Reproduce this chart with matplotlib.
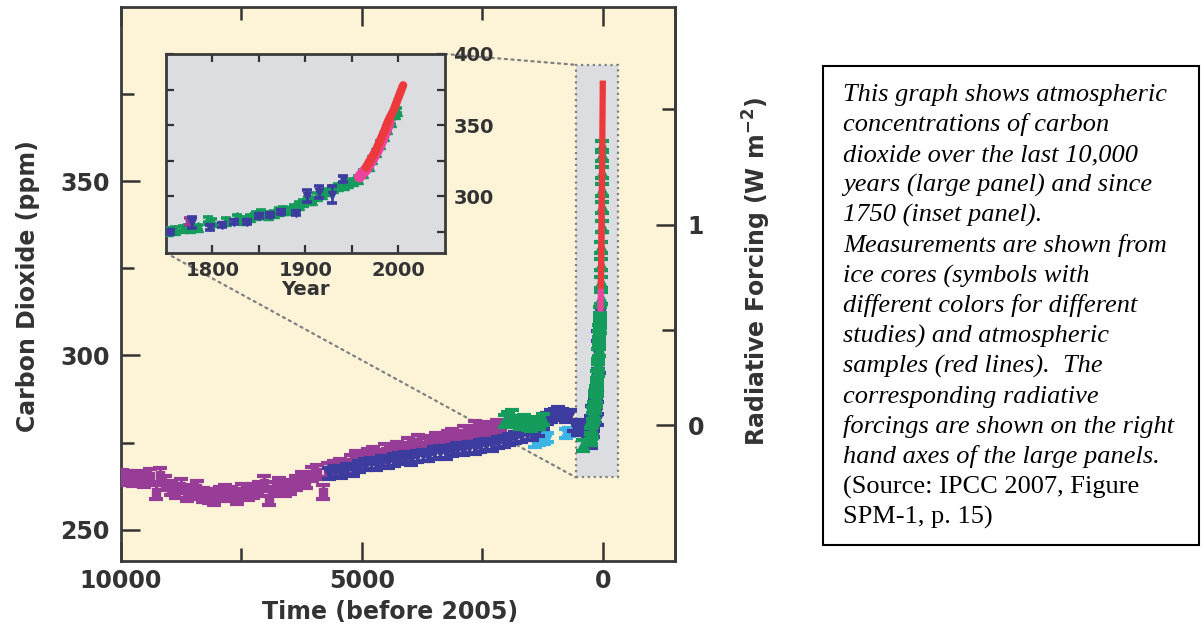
import numpy as np
import matplotlib.pyplot as plt
from matplotlib.patches import Rectangle, ConnectionPatch

plt.rcParams['font.family'] = 'DejaVu Sans'
plt.rcParams['font.weight'] = 'bold'
plt.rcParams['mathtext.default'] = 'bf'

# ---- data ----
# large panel, years before 2005
purple_bp = [9980, 9880, 9760, 9640, 9520, 9400, 9280, 9190, 9080, 8960, 8860, 8760, 8640, 8520,
             8420, 8300, 8180, 8070, 7950, 7840, 7720, 7600, 7480, 7370, 7260, 7140, 7040, 6930,
             6840, 6720, 6600, 6490, 6360, 6250, 6160, 6040, 5930, 5810, 5700, 5580, 5460, 5350,
             5230, 5120, 5000, 4880, 4760, 4640, 4520, 4400, 4280, 4160, 4040, 3920, 3840, 3700,
             3580, 3460, 3340, 3220, 3120, 3000, 2880, 2760, 2660, 2540, 2420, 2300, 2200, 2100]
purple_ppm = [265.2, 264.8, 264.5, 264.9, 264.3, 265.4, 260.9, 265.8, 263.5, 262.0, 261.2, 262.4, 260.1, 260.8,
              261.9, 260.0, 259.6, 259.0, 260.3, 260.8, 260.2, 259.4, 261.0, 260.6, 261.2, 261.8, 263.3, 259.0,
              261.6, 262.8, 261.6, 262.3, 263.4, 264.5, 264.0, 266.0, 266.5, 260.8, 267.2, 267.6, 268.4, 268.0,
              269.5, 270.6, 270.2, 271.2, 271.8, 271.0, 272.6, 272.0, 273.1, 272.4, 274.2, 273.6, 275.3, 274.3,
              275.0, 275.8, 275.4, 276.4, 277.0, 276.2, 277.8, 277.4, 279.2, 278.6, 279.0, 278.3, 279.5, 279.0]

blue_bp = [5680, 5560, 5440, 5300, 5180, 5060, 4940, 4820, 4700, 4580, 4460, 4340, 4220, 4100,
           3980, 3860, 3740, 3620, 3500, 3380, 3260, 3140, 3020, 2900, 2780, 2660, 2540, 2420,
           2300, 2180, 2060, 1940, 1820, 1700, 1580, 1460, 1340, 1240, 1160, 1080, 1000, 920,
           840, 760, 680, 600, 520, 440, 360, 300, 240, 180, 130]
blue_ppm = [266.2, 266.8, 266.4, 267.3, 267.0, 268.2, 268.6, 269.0, 268.8, 269.6, 269.3, 270.0, 270.4, 270.6,
            270.2, 271.0, 271.4, 271.2, 272.0, 272.3, 272.0, 272.8, 273.2, 273.0, 273.6, 273.4, 274.0, 274.4,
            274.2, 275.0, 275.2, 275.8, 276.4, 276.8, 277.4, 277.2, 278.4, 280.4, 281.8, 282.6, 283.0, 283.5,
            283.0, 282.6, 282.8, 280.0, 278.8, 279.4, 279.8, 278.4, 281.0, 282.6, 281.5]

cyan_bp = [1400, 1320, 1230, 1150, 760, 700]
cyan_ppm = [274.8, 275.4, 275.8, 276.4, 277.6, 278.0]

green_bp = [2030, 1960, 1880, 1800, 1720, 1640, 1560, 1480, 1400, 1320, 1250, 416]
green_ppm = [281.2, 282.2, 282.8, 281.0, 280.6, 281.4, 280.2, 280.0, 280.8, 280.4, 281.5, 274.2]

# since 1750 (inset), calendar years
ld_year = [1752, 1760, 1768, 1776, 1784, 1795, 1800, 1815, 1826, 1833, 1840, 1847, 1852, 1860,
           1866, 1872, 1876, 1882, 1888, 1893, 1897, 1903, 1907, 1912, 1918, 1924, 1930, 1935,
           1941, 1946, 1951, 1956, 1962, 1968, 1972, 1976, 1980, 1984, 1988, 1992, 1996, 1998]
ld_ppm = [275.8, 276.2, 277.5, 277.8, 278.2, 283.5, 282.0, 282.5, 285.0, 283.5, 285.0, 287.0, 288.2, 286.8,
          288.0, 289.6, 290.5, 290.0, 292.0, 294.0, 295.8, 297.5, 297.0, 300.2, 301.5, 303.5, 305.5, 307.0,
          308.0, 309.5, 310.5, 312.2, 316.5, 321.0, 326.0, 331.0, 337.0, 342.5, 347.5, 352.5, 357.5, 360.0]

sp_year = [1754, 1778, 1797, 1810, 1823, 1837, 1850, 1862, 1874, 1890, 1902, 1915, 1928, 1940]
sp_ppm = [275.0, 281.5, 278.0, 279.8, 282.0, 282.0, 286.0, 286.5, 289.0, 288.0, 300.0, 303.0, 301.0, 312.0]
sp_err = [1.5, 4.0, 1.5, 1.5, 1.5, 1.5, 1.5, 1.5, 1.5, 1.5, 4.0, 4.0, 6.0, 2.0]

mag_year = [1775]
mag_ppm = [282.0]

pink_year = [1958, 1962, 1966, 1970, 1974, 1978, 1982, 1986, 1990]
pink_ppm = [313.5, 316.5, 319.5, 324.0, 328.5, 333.0, 339.0, 345.0, 352.0]
red_year = [1965, 1970, 1975, 1980, 1985, 1990, 1995, 2000, 2005]
red_ppm = [320.0, 325.7, 331.1, 338.7, 346.1, 354.4, 360.8, 369.6, 378.0]

caption = ["This graph shows atmospheric",
           "concentrations of carbon",
           "dioxide over the last 10,000",
           "years (large panel) and since",
           "1750 (inset panel).",
           "Measurements are shown from",
           "ice cores (symbols with",
           "different colors for different",
           "studies) and atmospheric",
           "samples (red lines).  The",
           "corresponding radiative",
           "forcings are shown on the right",
           "hand axes of the large panels.",
           "(Source: IPCC 2007, Figure",
           "SPM-1, p. 15)"]
caption_italic = [True] * 13 + [False, False]

PURPLE = '#973c97'
BLUE = '#3c3c9e'
GREEN = '#159c5c'
CYAN = '#3cb4e6'
RED = '#ec3a3c'
PINK = '#ec449c'
TXT = '#333333'

fig = plt.figure(figsize=(12.02, 6.36), dpi=100)
ax = fig.add_axes([0.1007, 0.1179, 0.4609, 0.8711])
ax.set_facecolor('#fdf4d8')


def series(a, x, y, err, color, marker, ms, z, cap=5, lw=2.2):
    a.errorbar(x, y, yerr=err, fmt=marker, color=color, mec=color, ms=ms,
               ecolor=color, elinewidth=lw, capsize=cap, capthick=lw + 0.8, zorder=z)


to_bp = lambda yrs: [2005 - v for v in yrs]

# grey zoom box on the large panel
ax.add_patch(Rectangle((560, 265), -870, 118.4, facecolor='#dcdde1', edgecolor='#808080',
                       ls=':', lw=1.6, zorder=1))

series(ax, purple_bp, purple_ppm, 2.0, PURPLE, 's', 6, 3)
series(ax, blue_bp, blue_ppm, 1.6, BLUE, 'v', 7, 4)
series(ax, cyan_bp, cyan_ppm, 1.2, CYAN, 'v', 7, 3.5)
series(ax, green_bp, green_ppm, 1.6, GREEN, '^', 8, 4.5)
series(ax, to_bp(sp_year), sp_ppm, sp_err, BLUE, 'v', 7, 4.2)
series(ax, to_bp(ld_year), ld_ppm, 1.6, GREEN, '^', 8, 4.5)
ax.plot(to_bp(pink_year), pink_ppm, color=PINK, lw=4.5, zorder=6)
ax.plot(to_bp(red_year), red_ppm, color=RED, lw=4.5, zorder=6.5)

ax.set_xlim(10000, -1500)
ax.set_ylim(241, 400)
ax.set_xticks([10000, 5000, 0])
ax.set_xticks([7500, 2500], minor=True)
ax.set_yticks([250, 300, 350])
ax.set_yticks([275, 325, 375], minor=True)
ax.tick_params(which='both', direction='in', top=True, right=False, color='#333333', width=1.8,
               labelsize=17, labelcolor=TXT)
ax.tick_params(which='major', length=14)
ax.tick_params(which='minor', length=9.5)
ax.tick_params(axis='y', pad=8)
ax.tick_params(axis='x', pad=6)
for s in ax.spines.values():
    s.set_color('#3a3a3a')
    s.set_linewidth(2)

# radiative forcing axis
sec = ax.secondary_yaxis('right', functions=(lambda c: 5.35 * np.log(np.clip(c, 1, None) / 280.0),
                                             lambda f: 280.0 * np.exp(f / 5.35)))
sec.set_yticks([0, 1])
sec.set_yticks([0.5, 1.5], minor=True)
sec.tick_params(which='both', direction='in', color='#333333', width=1.8, labelsize=17,
                labelcolor=TXT, pad=9)
sec.tick_params(which='major', length=14)
sec.tick_params(which='minor', length=9.5)
sec.spines['right'].set_color('#3a3a3a')
sec.spines['right'].set_linewidth(2)

# inset
axin = fig.add_axes([0.1381, 0.6022, 0.2321, 0.3129], zorder=5)
axin.set_facecolor('#dcdde1')
series(axin, ld_year, ld_ppm, 1.8, GREEN, '^', 7, 3, cap=3.5, lw=1.8)
series(axin, sp_year, sp_ppm, sp_err, BLUE, 'v', 6, 4, cap=3.5, lw=1.8)
series(axin, mag_year, mag_ppm, 2.5, PURPLE, 's', 5, 3.5, cap=3.5, lw=1.8)
axin.plot(pink_year, pink_ppm, color=PINK, lw=8, zorder=6, solid_capstyle='round')
axin.plot(red_year, red_ppm, color=RED, lw=6, zorder=6.5, solid_capstyle='round')
axin.set_xlim(1750, 2050)
axin.set_ylim(260, 400)
axin.set_xticks([1800, 1900, 2000])
axin.set_xticks([1850, 1950], minor=True)
axin.set_yticks([300, 350, 400])
axin.set_yticks([275, 325, 375], minor=True)
axin.tick_params(which='both', direction='in', top=True, left=True, right=True,
                 labelleft=False, labelright=True, length=6, width=1.6, color='#333333',
                 labelsize=14, labelcolor=TXT, pad=6)
axin.set_xlabel('Year', fontsize=14, fontweight='bold', color=TXT, labelpad=0)
for s in axin.spines.values():
    s.set_color('#3a3a3a')
    s.set_linewidth(2)

for xa, xb in [((1, 1), (560, 383.4)), ((0, 0), (560, 265))]:
    con = ConnectionPatch(xyA=xa, coordsA=axin.transAxes, xyB=xb, coordsB=ax.transData,
                          ls=(0, (1, 2)), lw=1.6, color='#808080', zorder=1.5)
    con.set_clip_on(False)
    ax.add_artist(con)

# axis titles
fig.text(28 / 1202, 1 - 286 / 636, 'Carbon Dioxide (ppm)', rotation=90, ha='center', va='center',
         fontsize=17, color=TXT)
fig.text(390 / 1202, 1 - 612 / 636, 'Time (before 2005)', ha='center', va='center',
         fontsize=17, color=TXT)
fig.text(757 / 1202, 1 - 272 / 636, 'Radiative Forcing (W m$^{-2}$)', rotation=90, ha='center',
         va='center', fontsize=17, color=TXT)

# caption box
fig.add_artist(Rectangle((823 / 1202, (636 - 545) / 636), 376 / 1202, 479 / 636,
                         transform=fig.transFigure, fill=False, ec='black', lw=1.5))
for i, (line, it) in enumerate(zip(caption, caption_italic)):
    fig.text(843 / 1202, 1 - (101 + i * 30.2) / 636, line, ha='left', va='baseline',
             family='Liberation Serif', style='italic' if it else 'normal', weight='normal',
             fontsize=19, color='black')

fig.savefig('out.png', dpi=100)
